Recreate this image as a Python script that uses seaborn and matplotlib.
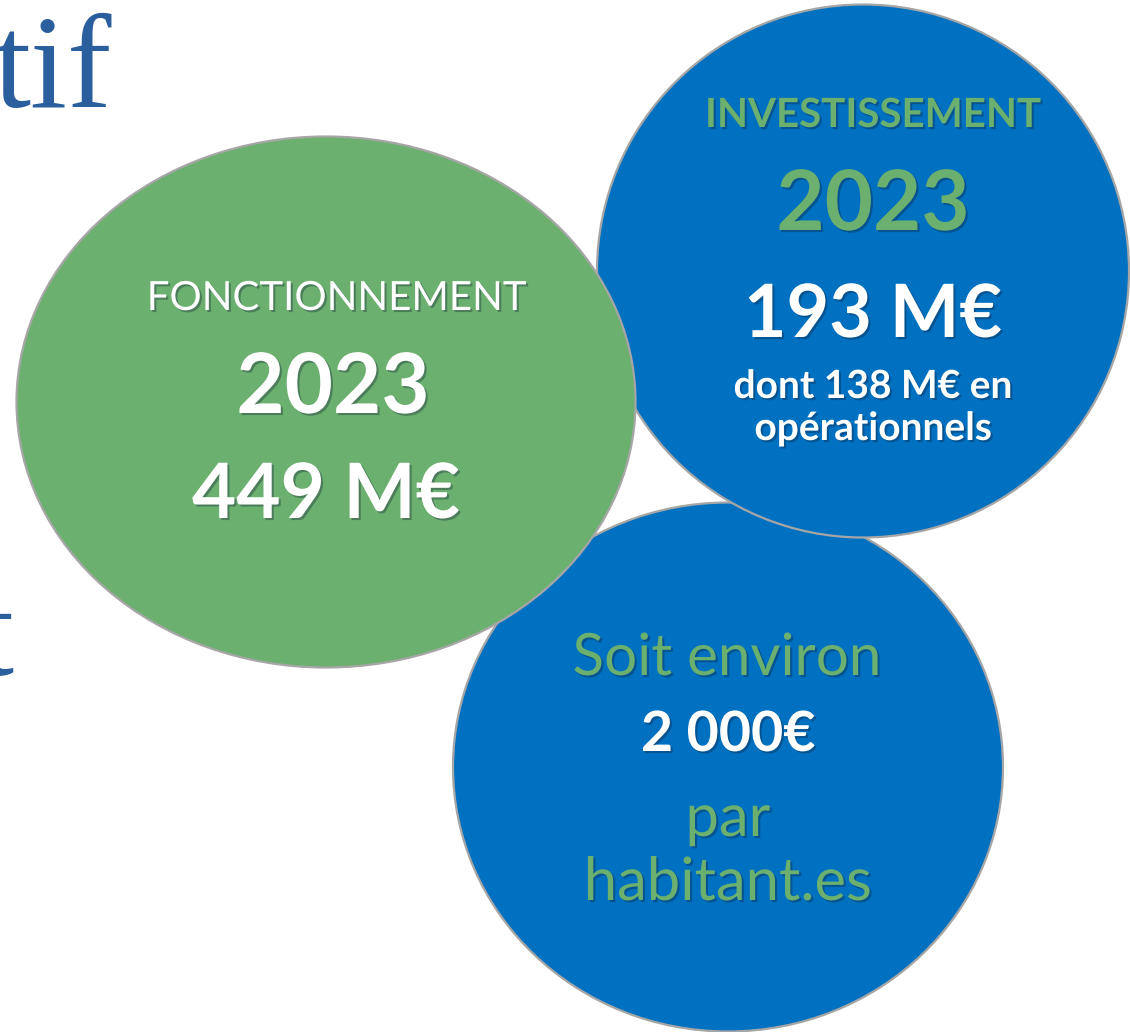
import matplotlib
matplotlib.use("Agg")
import matplotlib.pyplot as plt
import matplotlib.patheffects as pe
from matplotlib.patches import Ellipse
import seaborn as sns

# Données du visuel (budget 2023)
budget_year = "2023"
sections = ["FONCTIONNEMENT", "INVESTISSEMENT"]
amounts_meur = [449, 193]
invest_operationnel_meur = 138
par_habitant_eur = 2000
per_capita_words = ["Soit environ", "par", "habitant.es"]

# Couleurs
GREEN = "#6bb06e"
BLUE = "#0070c0"
EDGE = "#a6a6a6"
TITLE_BLUE = "#2b5e9c"

sns.set_theme(style="white")
plt.rcParams["font.family"] = ["Lato", "DejaVu Sans"]

fig = plt.figure(figsize=(11.3, 10.32), dpi=100)
ax = fig.add_axes([0, 0, 1, 1])
ax.set_xlim(0, 1130)
ax.set_ylim(1032, 0)
ax.set_aspect("equal")
ax.axis("off")

# bulles (ordre de dessin : bas, haut-droite, vert)
bulles = [
    ((728, 767), 550, 529, BLUE, 1),
    ((863, 271), 532, 533, BLUE, 2),
    ((326, 402), 619, 531, GREEN, 3),
]
for centre, w, h, col, z in bulles:
    ax.add_patch(Ellipse(centre, w, h, facecolor=col, edgecolor=EDGE, lw=1.6, zorder=z))

shadow = [pe.withSimplePatchShadow(offset=(1.5, -1.5), shadow_rgbFace="#10203a", alpha=0.35)]


def txt(x, y, s, size, color, weight="normal"):
    ax.text(x, y, s, fontsize=size, color=color, fontweight=weight, ha="center",
            va="baseline", zorder=10, path_effects=shadow)


# morceaux du titre de la diapositive (coupés à gauche)
ax.text(-6, 107, "tif", fontsize=96, color=TITLE_BLUE, family="Liberation Serif",
        ha="left", va="baseline", zorder=0)
ax.text(14, 675, "t", fontsize=96, color=TITLE_BLUE, family="Liberation Serif",
        ha="right", va="baseline", zorder=0)

# fonctionnement
txt(336, 310, sections[0], 29, "white")
txt(333, 413, budget_year, 60, "white", "bold")
txt(326, 518, f"{amounts_meur[0]} M€", 55, "white", "bold")

# investissement
txt(873, 127, sections[1], 29, GREEN, "bold")
txt(873, 230, budget_year, 60, GREEN, "bold")
txt(873, 337, f"{amounts_meur[1]} M€", 53, "white", "bold")
txt(873, 398, f"dont {invest_operationnel_meur} M€ en", 28, "white", "bold")
txt(873, 440, "opérationnels", 28, "white", "bold")

# par habitant
txt(727, 675, per_capita_words[0], 42, GREEN)
txt(728, 751, f"{par_habitant_eur:,}".replace(",", " ") + "€", 40, "white", "bold")
txt(728, 836, per_capita_words[1], 43, GREEN)
txt(728, 900, per_capita_words[2], 43, GREEN)

fig.savefig("out.png", dpi=100, facecolor="white")
